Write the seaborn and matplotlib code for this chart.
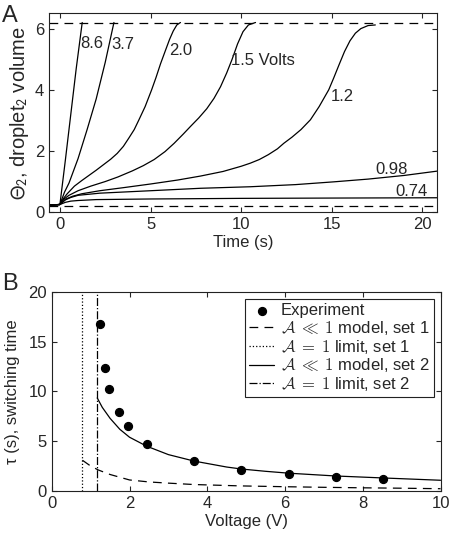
import matplotlib
matplotlib.use("Agg")
import matplotlib.pyplot as plt
import seaborn as sns

# ---------------- panel A data: droplet volume vs time, one curve per voltage
t_86 = [-0.6, 0.0, 0.3, 0.6, 0.9, 1.23]
y_86 = [0.23, 0.25, 1.7, 3.2, 4.7, 6.2]

t_37 = [-0.6, 0.0, 0.25, 0.5, 1.0, 1.5, 2.0, 2.5, 2.98]
y_37 = [0.23, 0.25, 0.65, 0.95, 1.75, 2.7, 3.7, 4.9, 6.2]

t_20 = [-0.6, 0.0, 0.2, 0.4, 0.8, 1.2, 1.6, 2.0, 2.4, 2.8, 3.16, 3.5, 3.8, 4.1, 4.36,
        4.7, 5.06, 5.3, 5.55, 5.83, 6.05, 6.25, 6.45, 6.65]
y_20 = [0.23, 0.25, 0.45, 0.6, 0.85, 1.03, 1.2, 1.37, 1.55, 1.73, 1.92, 2.15, 2.42, 2.7, 3.02,
        3.45, 4.0, 4.4, 4.85, 5.3, 5.65, 5.92, 6.12, 6.2]

t_15 = [-0.6, 0.0, 0.2, 0.5, 1.0, 1.7, 2.5, 3.2, 4.0, 4.6, 5.2, 5.8, 6.3, 6.8, 7.2, 7.66,
        8.1, 8.5, 8.86, 9.2, 9.5, 9.8, 10.1, 10.4, 10.79]
y_15 = [0.23, 0.25, 0.42, 0.55, 0.7, 0.85, 1.0, 1.15, 1.35, 1.52, 1.72, 1.98, 2.25, 2.55, 2.8, 3.08,
        3.38, 3.72, 4.1, 4.55, 5.0, 5.5, 5.9, 6.12, 6.2]

t_12 = [-0.6, 0.0, 0.3, 0.7, 1.2, 2.2, 3.5, 5.0, 6.5, 7.76, 9.0, 10.0, 10.5, 11.0, 11.5, 12.0,
        12.35, 12.8, 13.3, 13.82, 14.3, 14.83, 15.1, 15.4, 15.7, 16.0, 16.3, 16.6, 17.0, 17.4]
y_12 = [0.23, 0.25, 0.42, 0.52, 0.6, 0.7, 0.8, 0.92, 1.05, 1.18, 1.33, 1.5, 1.6, 1.72, 1.88, 2.07,
        2.25, 2.45, 2.7, 3.02, 3.45, 4.0, 4.38, 4.82, 5.25, 5.6, 5.85, 6.0, 6.1, 6.12]

t_098 = [-0.6, 0.0, 0.3, 0.6, 1.0, 2.2, 5.0, 7.76, 10.5, 13.0, 15.1, 17.0, 19.0, 20.8]
y_098 = [0.23, 0.25, 0.4, 0.48, 0.55, 0.62, 0.7, 0.78, 0.83, 0.9, 0.99, 1.08, 1.2, 1.34]

t_074 = [-0.6, 0.0, 0.3, 0.6, 1.0, 2.0, 5.0, 10.0, 15.0, 20.8]
y_074 = [0.23, 0.25, 0.32, 0.36, 0.38, 0.41, 0.43, 0.45, 0.46, 0.47]

curve_labels = ["8.6", "3.7", "2.0", "1.5 Volts", "1.2", "0.98", "0.74"]
label_t = [1.14, 2.85, 6.05, 9.45, 14.95, 17.38, 18.53]
label_y = [5.5, 5.47, 5.28, 4.96, 3.78, 1.40, 0.68]

volume_low = 0.2
volume_high = 6.2

# ---------------- panel B data: switching time vs voltage
exp_v = [1.23, 1.36, 1.47, 1.72, 1.96, 2.44, 3.66, 4.88, 6.09, 7.30, 8.53]
exp_tau = [16.8, 12.4, 10.3, 7.9, 6.5, 4.75, 3.0, 2.08, 1.72, 1.42, 1.15]

set2_v = [1.17, 1.3, 1.5, 1.75, 2.0, 2.44, 3.0, 3.66, 4.5, 4.88, 5.5, 6.1, 7.3, 8.53, 10.0]
set2_tau = [9.35, 8.4, 7.3, 6.2, 5.4, 4.5, 3.65, 3.0, 2.4, 2.2, 1.97, 1.78, 1.5, 1.3, 1.07]

set1_v = [0.79, 1.0, 1.2, 1.5, 2.0, 2.5, 3.0, 3.66, 4.88, 6.0, 7.0, 8.0, 9.0, 10.0]
set1_tau = [3.08, 2.5, 2.1, 1.65, 1.1, 0.9, 0.78, 0.64, 0.5, 0.42, 0.36, 0.31, 0.27, 0.22]

set1_limit_v = 0.79
set2_limit_v = 1.17

# ---------------- style
sns.set_style("ticks")
plt.rcParams["font.family"] = ["Liberation Sans", "DejaVu Sans"]
plt.rcParams["mathtext.fontset"] = "cm"
plt.rcParams["font.size"] = 12
plt.rcParams["axes.linewidth"] = 0.8
plt.rcParams["axes.edgecolor"] = "#222222"
plt.rcParams["xtick.direction"] = "in"
plt.rcParams["ytick.direction"] = "in"
plt.rcParams["xtick.top"] = True
plt.rcParams["ytick.right"] = True
plt.rcParams["xtick.major.size"] = 3.5
plt.rcParams["ytick.major.size"] = 3.5
plt.rcParams["xtick.major.width"] = 0.8
plt.rcParams["ytick.major.width"] = 0.8
plt.rcParams["xtick.labelsize"] = 12
plt.rcParams["ytick.labelsize"] = 12

fig = plt.figure(figsize=(4.5, 5.33), dpi=100)
axA = fig.add_axes([0.109, 0.602, 0.862, 0.373])
axB = fig.add_axes([0.115, 0.079, 0.864, 0.373])

lw = 0.9
dash = (0, (7, 5))

# ---------------- panel A
curves = [(t_86, y_86), (t_37, y_37), (t_20, y_20), (t_15, y_15),
          (t_12, y_12), (t_098, y_098), (t_074, y_074)]
for t, y in curves:
    sns.lineplot(x=t, y=y, ax=axA, color="black", lw=lw, sort=False, estimator=None)

axA.axhline(volume_low, color="black", lw=lw, linestyle=dash)
axA.axhline(volume_high, color="black", lw=lw, linestyle=dash)

for txt, tx, ty in zip(curve_labels, label_t, label_y):
    axA.text(tx, ty, txt, fontsize=12, ha="left", va="center")

axA.set_xlim(-0.6, 20.8)
axA.set_ylim(0, 6.5)
axA.set_xticks([0, 5, 10, 15, 20])
axA.set_yticks([0, 2, 4, 6])
axA.set_xlabel("Time (s)", labelpad=2)
axA.set_ylabel(r"$\Theta_2$, droplet$_2$ volume", math_fontfamily="stixsans",
               fontsize=14.5, labelpad=3)

# ---------------- panel B
axB.scatter(exp_v, exp_tau, s=32, color="black", zorder=3, label="Experiment")
sns.lineplot(x=set1_v, y=set1_tau, ax=axB, color="black", lw=lw, linestyle=dash,
             sort=False, estimator=None, label=r"$\mathcal{A}\;\ll\;1$ model, set 1")
axB.axvline(set1_limit_v, color="black", lw=lw, linestyle=":",
            label=r"$\mathcal{A}\;=\;1$ limit, set 1")
sns.lineplot(x=set2_v, y=set2_tau, ax=axB, color="black", lw=lw,
             sort=False, estimator=None, label=r"$\mathcal{A}\;\ll\;1$ model, set 2")
axB.axvline(set2_limit_v, color="black", lw=lw, linestyle="-.",
            label=r"$\mathcal{A}\;=\;1$ limit, set 2")

handles, labels = axB.get_legend_handles_labels()
order = [labels.index("Experiment")] + [i for i, l in enumerate(labels) if l != "Experiment"]
leg = axB.legend([handles[i] for i in order], [labels[i] for i in order],
                 loc="upper right", fontsize=12, frameon=True, fancybox=False,
                 edgecolor="#222222", framealpha=1, handlelength=1.5,
                 handletextpad=0.4, borderpad=0.25, labelspacing=0.05,
                 borderaxespad=0.4)
leg.get_frame().set_linewidth(0.8)

axB.set_xlim(0, 10)
axB.set_ylim(0, 20)
axB.set_xticks([0, 2, 4, 6, 8, 10])
axB.set_yticks([0, 5, 10, 15, 20])
axB.set_xlabel("Voltage (V)", labelpad=2)
axB.set_ylabel("τ (s), switching time", labelpad=6)

fig.text(0.005, 0.99, "A", fontsize=17, va="top", ha="left")
fig.text(0.005, 0.488, "B", fontsize=17, va="top", ha="left")

fig.savefig("out.png", dpi=100)
